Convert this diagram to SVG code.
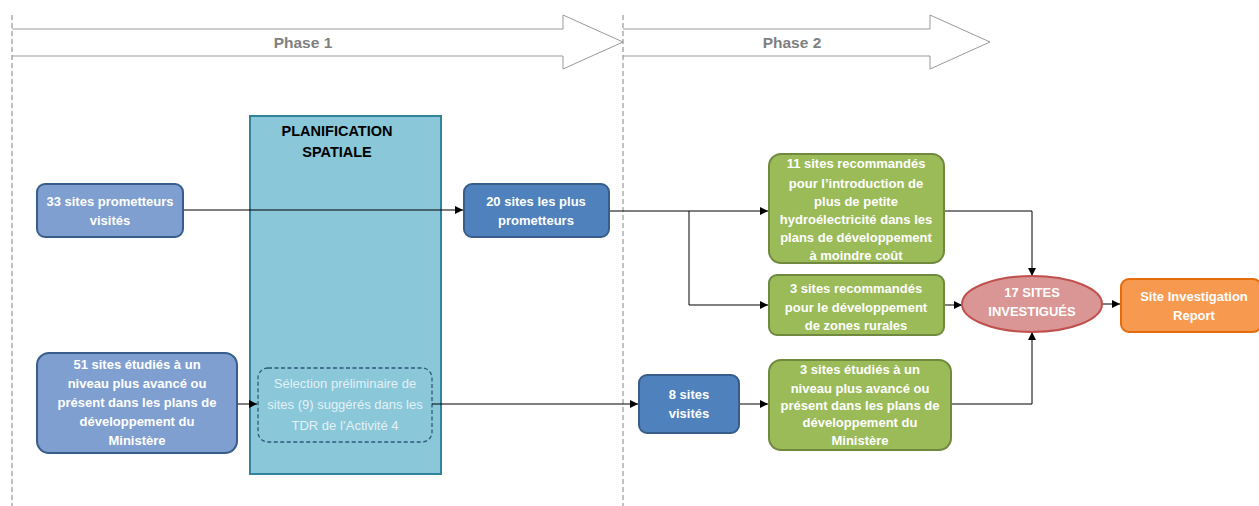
<svg xmlns="http://www.w3.org/2000/svg" width="1259" height="506" viewBox="0 0 1259 506">
<defs>
<style>
.t{font-family:"Liberation Sans",Arial,sans-serif;font-size:13px;font-weight:bold;fill:#fff;text-anchor:middle}
.ph{font-family:"Liberation Sans",Arial,sans-serif;font-size:15.5px;font-weight:bold;fill:#7f7f7f;text-anchor:middle}
.blk{font-family:"Liberation Sans",Arial,sans-serif;font-size:14.5px;font-weight:bold;fill:#000;text-anchor:middle}
.lt{font-family:"Liberation Sans",Arial,sans-serif;font-size:13px;fill:#e4f1f5;text-anchor:middle}
.b1{fill:#7f9fd0;stroke:#385d8a;stroke-width:2}
.b2{fill:#4f81bd;stroke:#385d8a;stroke-width:2}
.g{fill:#9bbb59;stroke:#71893f;stroke-width:2}
.c{fill:none;stroke:#000;stroke-width:1}
.dash{stroke:#808080;stroke-width:1;stroke-dasharray:5,3}
.arr{fill:#fff;stroke:#999;stroke-width:1}
</style>
<marker id="ah" viewBox="0 0 10 10" refX="10" refY="5" markerWidth="8" markerHeight="8" markerUnits="userSpaceOnUse" orient="auto">
<path d="M0,0 L10,5 L0,10 z" fill="#000"/>
</marker>
</defs>
<rect width="1259" height="506" fill="#fff"/>
<g id="phases">
<path class="arr" d="M12,29 H563 V15 L623,42 L563,69 V56 H12"/>
<path class="arr" d="M623,29 H930 V15 L990,42 L930,69 V56 H623"/>
<text class="ph" x="303" y="48">Phase 1</text>
<text class="ph" x="792" y="48">Phase 2</text>
<line class="dash" x1="12" y1="15" x2="12" y2="506"/>
<line class="dash" x1="623" y1="15" x2="623" y2="506"/>
</g>
<g id="planification">
<rect x="250" y="116" width="191" height="358" fill="#89c7d9" stroke="#31849b" stroke-width="2"/>
<text class="blk" x="337" y="136">PLANIFICATION</text>
<text class="blk" x="337" y="157">SPATIALE</text>
</g>
<g id="selection">
<rect x="258" y="368" width="174" height="74" rx="10" fill="none" stroke="#2e5a7d" stroke-width="1.3" stroke-dasharray="4,2.5"/>
<text class="lt" x="345" y="388">Sélection préliminaire de</text>
<text class="lt" x="345" y="409">sites (9) suggérés dans les</text>
<text class="lt" x="345" y="430">TDR de l’Activité 4</text>
</g>
<g id="connectors">
<line class="c" x1="183" y1="210" x2="463" y2="210" marker-end="url(#ah)" stroke="#333"/>
<line class="c" x1="237" y1="404" x2="257" y2="404" marker-end="url(#ah)" stroke="#333"/>
<line class="c" x1="432" y1="404" x2="638" y2="404" marker-end="url(#ah)" stroke="#333"/>
<line class="c" x1="609" y1="211" x2="768" y2="211" marker-end="url(#ah)"/>
<polyline class="c" points="689,211 689,305 768,305" marker-end="url(#ah)"/>
<line class="c" x1="944" y1="305" x2="962" y2="305" marker-end="url(#ah)"/>
<polyline class="c" points="944,211 1032,211 1032,276" marker-end="url(#ah)"/>
<line class="c" x1="739" y1="404" x2="768" y2="404" marker-end="url(#ah)"/>
<polyline class="c" points="951,404 1032,404 1032,332" marker-end="url(#ah)"/>
<line class="c" x1="1102" y1="304" x2="1120" y2="304" marker-end="url(#ah)"/>
</g>
<g id="n33">
<rect class="b1" x="37" y="184" width="146" height="53" rx="8"/>
<text class="t" x="110" y="206">33 sites prometteurs</text>
<text class="t" x="110" y="225">visités</text>
</g>
<g id="n51">
<rect class="b1" x="37" y="353" width="200" height="100" rx="12"/>
<text class="t" x="137" y="369">51 sites étudiés à un</text>
<text class="t" x="137" y="388">niveau plus avancé ou</text>
<text class="t" x="137" y="407">présent dans les plans de</text>
<text class="t" x="137" y="426">développement du</text>
<text class="t" x="137" y="445">Ministère</text>
</g>
<g id="n20">
<rect class="b2" x="464" y="184" width="145" height="53" rx="8"/>
<text class="t" x="536" y="206">20 sites les plus</text>
<text class="t" x="536" y="225">prometteurs</text>
</g>
<g id="n8">
<rect class="b2" x="639" y="375" width="100" height="58" rx="8"/>
<text class="t" x="689" y="399">8 sites</text>
<text class="t" x="689" y="418">visités</text>
</g>
<g id="n11">
<rect class="g" x="769" y="154" width="175" height="109" rx="12"/>
<text class="t" x="856" y="168">11 sites recommandés</text>
<text class="t" x="856" y="188">pour l’introduction de</text>
<text class="t" x="856" y="206">plus de petite</text>
<text class="t" x="856" y="224">hydroélectricité dans les</text>
<text class="t" x="856" y="242">plans de développement</text>
<text class="t" x="856" y="260">à moindre coût</text>
</g>
<g id="n3r">
<rect class="g" x="769" y="275" width="175" height="60" rx="8"/>
<text class="t" x="856" y="293">3 sites recommandés</text>
<text class="t" x="856" y="312">pour le développement</text>
<text class="t" x="856" y="330">de zones rurales</text>
</g>
<g id="n3e">
<rect class="g" x="769" y="360" width="182" height="90" rx="12"/>
<text class="t" x="860" y="374">3 sites étudiés à un</text>
<text class="t" x="860" y="393">niveau plus avancé ou</text>
<text class="t" x="860" y="410">présent dans les plans de</text>
<text class="t" x="860" y="427">développement du</text>
<text class="t" x="860" y="445">Ministère</text>
</g>
<g id="n17">
<ellipse cx="1032" cy="304" rx="70" ry="28" fill="#d99694" stroke="#c0504d" stroke-width="2"/>
<text class="t" x="1032" y="297">17 SITES</text>
<text class="t" x="1032" y="316">INVESTIGUÉS</text>
</g>
<g id="report">
<rect x="1121" y="279" width="140" height="53" rx="8" fill="#f79a4f" stroke="#e46c0a" stroke-width="2"/>
<text class="t" x="1194" y="301">Site Investigation</text>
<text class="t" x="1194" y="320">Report</text>
</g>
</svg>
